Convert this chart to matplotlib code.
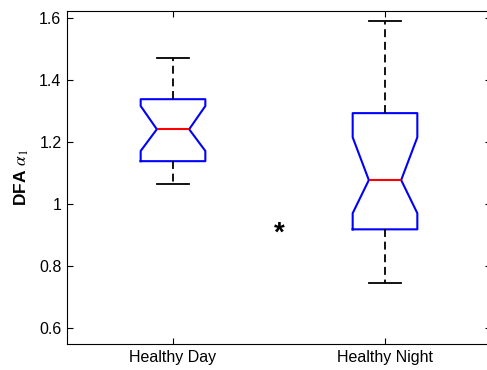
import matplotlib
matplotlib.use("Agg")
import matplotlib.pyplot as plt

plt.rcParams['font.family'] = ['Liberation Sans', 'DejaVu Sans']
plt.rcParams['mathtext.fontset'] = 'stix'

# Group names and box summary statistics
groups = ["Healthy Day", "Healthy Night"]
medians = [1.241, 1.077]
q1 = [1.138, 0.918]
q3 = [1.338, 1.293]
whisker_low = [1.064, 0.746]
whisker_high = [1.470, 1.591]
notch_low = [1.171, 0.970]
notch_high = [1.316, 1.215]

# Significance marker between the groups
marker_pos = 1.5
marker_value = 0.923

yticks = [0.6, 0.8, 1.0, 1.2, 1.4, 1.6]
ytick_labels = ["0.6", "0.8", "1", "1.2", "1.4", "1.6"]

stats = []
for i, name in enumerate(groups):
    stats.append(dict(label=name, med=medians[i], q1=q1[i], q3=q3[i],
                      whislo=whisker_low[i], whishi=whisker_high[i],
                      cilo=notch_low[i], cihi=notch_high[i], fliers=[]))

fig = plt.figure(figsize=(4.87, 3.70), dpi=100)
W, H = 487, 370
ax = fig.add_axes([67 / W, (H - 344) / H, (491 - 67) / W, (344 - 11) / H])

ax.bxp(stats, positions=[1, 2], widths=0.305, shownotches=True,
       showfliers=False, patch_artist=False,
       boxprops=dict(color="#0000ff", linewidth=1.5),
       medianprops=dict(color="#ff0000", linewidth=1.5),
       whiskerprops=dict(color="black", linewidth=1.3, linestyle=(0, (4.4, 2.6))),
       capprops=dict(color="black", linewidth=1.3))

# The asterisk glyph sits high in its text box, so nudge it down onto its value
ax.annotate("*", xy=(marker_pos, marker_value), xytext=(0, -4),
            textcoords="offset points", ha="center", va="center",
            fontsize=20, fontweight="bold")

ax.set_xlim(0.5, 2.5)
ax.set_ylim(0.548, 1.6226)
ax.set_yticks(yticks)
ax.set_yticklabels(ytick_labels)
ax.set_xticks([1, 2])
ax.set_xticklabels(groups)
ax.tick_params(direction="in", length=4, width=0.8, labelsize=11.5,
               top=True, right=True, pad=4)
for s in ax.spines.values():
    s.set_linewidth(0.8)

ax.set_ylabel(r"DFA $\alpha_1$", fontsize=12.5, fontweight="bold",
              labelpad=6)

fig.savefig("out.png", dpi=100)
